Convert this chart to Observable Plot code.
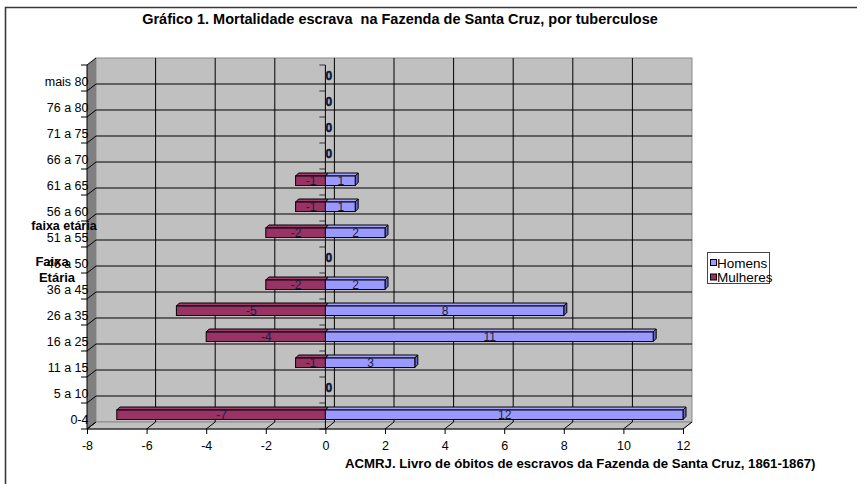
<!DOCTYPE html>
<html><head><meta charset="utf-8">
<script src="https://cdn.jsdelivr.net/npm/d3@7"></script>
<script src="https://cdn.jsdelivr.net/npm/@observablehq/plot@0.6"></script>
<style>body{margin:0;background:#fff} svg{display:block}</style>
</head><body><div id="chart"></div>
<script>
const categories = ["0-4","5 a 10","11 a 15","16 a 25","26 a 35","36 a 45","46 a 50","51 a 55","56 a 60","61 a 65","66 a 70","71 a 75","76 a 80","mais 80"];
const homens   = [12, 0, 3, 11, 8, 2, 0, 2, 1, 1, 0, 0, 0, 0];
const mulheres = [-7, 0, -1, -4, -5, -2, 0, -2, -1, -1, 0, 0, 0, 0];
const xTicks = [-8, -6, -4, -2, 0, 2, 4, 6, 8, 10, 12];
const seriesNames = ["Homens", "Mulheres"];
const titleText = "Gráfico 1. Mortalidade escrava  na Fazenda de Santa Cruz, por tuberculose";
const captionText = "ACMRJ. Livro de óbitos de escravos da Fazenda de Santa Cruz, 1861-1867)";
const axisTitle1 = "faixa etária";
const axisTitle2 = ["Faixa", "Etária"];

const faceColor = {Homens: "#9999ff", Mulheres: "#993366"};
const topColor = {Homens: "#a3a3ff", Mulheres: "#a23d6e"};
const sideColor = {Homens: "#6666cc", Mulheres: "#662244"};

const data = categories.flatMap((c, i) => [
  {cat: c, serie: "Mulheres", v: mulheres[i]},
  {cat: c, serie: "Homens", v: homens[i]}
]);
const nonzero = data.filter(d => d.v !== 0);
const zeroCats = categories.filter((c, i) => homens[i] === 0 && mulheres[i] === 0);

const DX = 9, DY = -7;
const INSET_TOP = 7, INSET_BOTTOM = 9.5, BD = 3;
const FONT = "'Liberation Sans', Arial, sans-serif";

function decor(index, scales, values, dims) {
  const x = scales.x, y = scales.y;
  const X0 = x(-8), X1 = x(12);
  const Y0 = dims.marginTop, Y1 = dims.height - dims.marginBottom;
  const g = d3.create("svg:g");
  g.append("path").attr("d", `M5.5,${dims.height}V7.5H857`).attr("fill", "none").attr("stroke", "#3a3a3a").attr("stroke-width", 1.6);
  g.append("rect").attr("x", X0 + DX).attr("y", Y0 + DY).attr("width", X1 - X0).attr("height", Y1 - Y0)
    .attr("fill", "#c0c0c0").attr("stroke", "#8a8a8a");
  g.append("path").attr("d", `M${X0},${Y0}L${X0 + DX},${Y0 + DY}L${X0 + DX},${Y1 + DY}L${X0},${Y1}Z`).attr("fill", "#808080");
  g.append("path").attr("d", `M${X0},${Y1}L${X0 + DX},${Y1 + DY}L${X1 + DX},${Y1 + DY}L${X1},${Y1}Z`)
    .attr("fill", "#c0c0c0").attr("stroke", "#8a8a8a");
  const bounds = categories.map(c => y(c)).concat([Y1]);
  const interior = bounds.filter(b => b > Y0 + 0.5 && b < Y1 - 0.5);
  for (const b of interior)
    g.append("line").attr("x1", X0 + DX).attr("x2", X1 + DX).attr("y1", b + DY).attr("y2", b + DY).attr("stroke", "#000");
  for (const t of xTicks.slice(1, -1))
    g.append("line").attr("x1", x(t) + DX).attr("x2", x(t) + DX).attr("y1", Y0 + DY).attr("y2", Y1 + DY).attr("stroke", "#000");
  for (const b of bounds) {
    g.append("line").attr("x1", X0).attr("y1", b).attr("x2", X0 + DX).attr("y2", b + DY).attr("stroke", "#000");
    g.append("line").attr("x1", X0 - 6).attr("y1", b).attr("x2", X0).attr("y2", b).attr("stroke", "#000");
    g.append("line").attr("x1", x(0) - 6).attr("y1", b).attr("x2", x(0)).attr("y2", b).attr("stroke", "#333");
  }
  for (const t of xTicks)
    g.append("line").attr("x1", x(t)).attr("y1", Y1).attr("x2", x(t) + DX).attr("y2", Y1 + DY).attr("stroke", "#000");
  g.append("line").attr("x1", X0).attr("x2", X0).attr("y1", Y0).attr("y2", Y1).attr("stroke", "#000");
  g.append("line").attr("x1", X0).attr("x2", X1).attr("y1", Y1).attr("y2", Y1).attr("stroke", "#000");
  g.append("line").attr("x1", x(0)).attr("x2", x(0)).attr("y1", Y0).attr("y2", Y1).attr("stroke", "#000");
  return g.node();
}

// top and right side faces of the 3D bars, placed with the plot's scales
function barFaces(index, scales, values, dims) {
  const x = scales.x, y = scales.y;
  const bw = (dims.height - dims.marginTop - dims.marginBottom) / categories.length;
  const g = d3.create("svg:g").attr("stroke", "#000").attr("stroke-width", 1).attr("stroke-linejoin", "round");
  for (const d of nonzero) {
    const xa = Math.min(x(0), x(d.v)), xb = Math.max(x(0), x(d.v));
    const yt = y(d.cat) + INSET_TOP, yb = y(d.cat) + bw - INSET_BOTTOM;
    g.append("path").attr("fill", topColor[d.serie])
      .attr("d", `M${xa},${yt}L${xa + BD},${yt - BD}L${xb + BD},${yt - BD}L${xb},${yt}Z`);
    g.append("path").attr("fill", sideColor[d.serie])
      .attr("d", `M${xb},${yt}L${xb + BD},${yt - BD}L${xb + BD},${yb - BD}L${xb},${yb}Z`);
  }
  return g.node();
}

function overlay(index, scales, values, dims) {
  const g = d3.create("svg:g").attr("font-family", FONT).attr("text-anchor", "start");
  g.append("text").attr("x", 400).attr("y", 19).attr("dy", "0.35em").attr("text-anchor", "middle")
    .attr("font-weight", "bold").attr("font-size", 14.5).text(titleText);
  g.append("text").attr("x", 345).attr("y", 463).attr("dy", "0.35em").attr("text-anchor", "start")
    .attr("font-weight", "bold").attr("font-size", 13.2).text(captionText);
  g.append("text").attr("x", 64).attr("y", 226).attr("dy", "0.35em").attr("text-anchor", "middle")
    .attr("font-weight", "bold").attr("font-size", 12.5).text(axisTitle1);
  g.append("text").attr("x", 52).attr("y", 261).attr("dy", "0.35em").attr("text-anchor", "middle")
    .attr("font-weight", "bold").attr("font-size", 13).text(axisTitle2[0]);
  g.append("text").attr("x", 57).attr("y", 277).attr("dy", "0.35em").attr("text-anchor", "middle")
    .attr("font-weight", "bold").attr("font-size", 13).text(axisTitle2[1]);
  const lg = g.append("g");
  lg.append("rect").attr("x", 707.5).attr("y", 252.5).attr("width", 62).attr("height", 31).attr("fill", "#fff").attr("stroke", "#444");
  seriesNames.forEach((s, i) => {
    const cy = 263 + i * 14.5;
    lg.append("rect").attr("x", 710.5).attr("y", cy - 3.5).attr("width", 6).attr("height", 6)
      .attr("fill", faceColor[s]).attr("stroke", "#000");
    lg.append("text").attr("x", 717).attr("y", cy).attr("dy", "0.35em").attr("text-anchor", "start")
      .attr("font-size", 13.5).text(s);
  });
  return g.node();
}

const chart = Plot.plot({
  width: 867,
  height: 484,
  marginLeft: 87,
  marginRight: 867 - 683,
  marginTop: 65,
  marginBottom: 484 - 429,
  style: {fontFamily: FONT, fontSize: "12px", background: "#fff", color: "#000"},
  x: {domain: [-8, 12], axis: null},
  y: {type: "band", domain: categories.slice().reverse(), padding: 0, axis: null},
  marks: [
    decor,
    Plot.axisX({ticks: xTicks, tickSize: 5, tickPadding: 7, label: null, fontSize: 12.5, tickFormat: d => String(d)}),
    Plot.text(categories, {y: d => d, frameAnchor: "left", textAnchor: "end", dx: 1, dy: 3, fontSize: 12.5, fill: "#000"}),
    barFaces,
    Plot.barX(nonzero, {x1: 0, x2: "v", y: "cat", fill: d => faceColor[d.serie], stroke: "#000", strokeWidth: 1,
      insetTop: INSET_TOP, insetBottom: INSET_BOTTOM}),
    Plot.text(nonzero, {x: d => d.v / 2, y: "cat", text: d => String(d.v), dy: -1.5, fontSize: 12, fill: "#1c1c40"}),
    Plot.text(zeroCats, {x: () => 0, y: d => d, text: () => "0", dx: 3, dy: -2, fontSize: 12, fontWeight: "bold",
      fill: "#111133", stroke: "#111133", strokeWidth: 0.5}),
    overlay
  ]
});
document.getElementById("chart").appendChild(chart);
</script>
</body></html>
